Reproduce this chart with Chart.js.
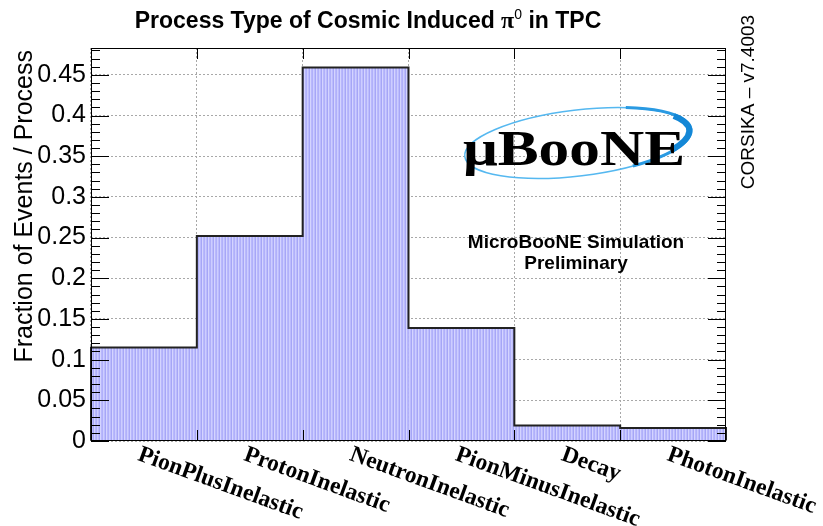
<!DOCTYPE html>
<html>
<head>
<meta charset="utf-8">
<script src="https://cdn.jsdelivr.net/npm/chart.js@4"></script>
<style>
  body { margin: 0; background: #fff; }
</style>
</head>
<body>
<canvas id="c" width="823" height="526"></canvas>
<script>
const categories = ['PionPlusInelastic', 'ProtonInelastic', 'NeutronInelastic', 'PionMinusInelastic', 'Decay', 'PhotonInelastic'];
const fractions = [0.115, 0.252, 0.459, 0.139, 0.019, 0.016];
const yTicks = [0, 0.05, 0.1, 0.15, 0.2, 0.25, 0.3, 0.35, 0.4, 0.45];
const yTickLabels = ['0', '0.05', '0.1', '0.15', '0.2', '0.25', '0.3', '0.35', '0.4', '0.45'];
const yMinorStep = 0.01;
const yMax = 0.483;

// ROOT-like dotted blue fill
function makeFill() {
  const c = document.createElement('canvas');
  c.width = 6; c.height = 4;
  const g = c.getContext('2d');
  const cols = ['#b0b0fa', '#cdcdff', '#bcbcfd', '#a6a6f6', '#d4d4ff', '#b8b8fc'];
  cols.forEach((col, i) => { g.fillStyle = col; g.fillRect(i, 0, 1, 4); });
  return g.createPattern(c, 'repeat');
}

const histPlugin = {
  id: 'hist',
  afterDraw(chart) {
    const ctx = chart.ctx;
    const a = chart.chartArea;
    const xs = chart.scales.x, ys = chart.scales.y;
    const bars = chart.getDatasetMeta(0).data;
    ctx.save();

    // step outline
    ctx.strokeStyle = '#222';
    ctx.lineWidth = 2;
    ctx.beginPath();
    bars.forEach((b, i) => {
      const l = b.x - b.width / 2, r = b.x + b.width / 2;
      if (i === 0) ctx.moveTo(l, b.base);
      ctx.lineTo(l, b.y);
      ctx.lineTo(r, b.y);
      if (i === bars.length - 1) ctx.lineTo(r, b.base);
    });
    ctx.stroke();

    // frame
    ctx.strokeStyle = '#000';
    ctx.lineWidth = 1;
    ctx.strokeRect(a.left + 0.5, a.top + 0.5, a.right - a.left - 1, a.bottom - a.top - 1);

    // y ticks (major + minor) on both sides
    ctx.beginPath();
    for (let v = 0; v <= yMax + 1e-9; v += yMinorStep) {
      const y = Math.round(ys.getPixelForValue(v)) + 0.5;
      const major = yTicks.some(t => Math.abs(t - v) < 1e-6);
      const len = major ? 18 : 9;
      ctx.moveTo(a.left, y); ctx.lineTo(a.left + len, y);
      ctx.moveTo(a.right, y); ctx.lineTo(a.right - len, y);
    }
    // x ticks at bin edges, top and bottom
    for (let i = 0; i < categories.length - 1; i++) {
      const x = Math.round((xs.getPixelForValue(i) + xs.getPixelForValue(i + 1)) / 2) + 0.5;
      ctx.moveTo(x, a.bottom); ctx.lineTo(x, a.bottom - 11);
      ctx.moveTo(x, a.top); ctx.lineTo(x, a.top + 11);
    }
    ctx.stroke();

    // y axis title
    ctx.fillStyle = '#000';
    ctx.save();
    ctx.translate(32, a.top + 2);
    ctx.rotate(-Math.PI / 2);
    ctx.font = '25px "Liberation Sans"';
    ctx.textAlign = 'right';
    ctx.textBaseline = 'alphabetic';
    ctx.fillText('Fraction of Events / Process', 0, 0);
    ctx.restore();

    // x labels
    ctx.font = 'bold 23.5px "Liberation Serif"';
    ctx.textAlign = 'left';
    ctx.textBaseline = 'top';
    categories.forEach((lab, i) => {
      const cx = xs.getPixelForValue(i);
      ctx.save();
      ctx.translate(cx - 1, a.bottom + 2);
      ctx.rotate(20 * Math.PI / 180);
      ctx.fillText(lab, 0, 0);
      ctx.restore();
    });

    // title
    ctx.textBaseline = 'alphabetic';
    const parts = [
      ['Process Type of Cosmic Induced ', 'bold 23px "Liberation Sans"', 0],
      ['\u03C0', 'bold 24px "Liberation Serif"', 0],
      ['0', '14px "Liberation Sans"', -9],
      [' in TPC', 'bold 23px "Liberation Sans"', 0]
    ];
    let w = 0;
    parts.forEach(p => { ctx.font = p[1]; w += ctx.measureText(p[0]).width; });
    let tx = 368 - w / 2;
    parts.forEach(p => {
      ctx.font = p[1];
      ctx.fillText(p[0], tx, 28 + p[2]);
      tx += ctx.measureText(p[0]).width;
    });

    // side label
    ctx.save();
    ctx.translate(754, 102);
    ctx.rotate(-Math.PI / 2);
    ctx.font = '19px "Liberation Sans"';
    ctx.textAlign = 'center';
    ctx.fillText('CORSIKA \u2013 v7.4003', 0, 0);
    ctx.restore();

    // uBooNE logo
    ctx.save();
    ctx.translate(578, 143);
    ctx.rotate(-0.12);
    ctx.strokeStyle = '#55b8f0';
    ctx.lineWidth = 1.5;
    ctx.beginPath();
    ctx.ellipse(0, 0, 114, 33, 0, 0, Math.PI * 2);
    ctx.stroke();
    ctx.strokeStyle = '#2a9ae2';
    ctx.lineWidth = 3;
    ctx.beginPath();
    ctx.ellipse(0, 0, 114, 33, 0, -1.1, 1.1);
    ctx.stroke();
    ctx.strokeStyle = '#1487d6';
    ctx.lineWidth = 6;
    ctx.beginPath();
    ctx.ellipse(0, 0, 112, 32, 0, -0.5, 0.6);
    ctx.stroke();
    ctx.restore();

    ctx.save();
    ctx.font = 'bold 50px "Liberation Serif"';
    const lw = ctx.measureText('\u03BCBooNE').width;
    ctx.translate(463, 165);
    ctx.scale(222 / lw, 1);
    ctx.textAlign = 'left';
    ctx.fillText('\u03BCBooNE', 0, 0);
    ctx.restore();

    ctx.font = 'bold 19px "Liberation Sans"';
    ctx.textAlign = 'center';
    ctx.fillText('MicroBooNE Simulation', 576, 248);
    ctx.fillText('Preliminary', 576, 269);

    ctx.restore();
  }
};

new Chart(document.getElementById('c'), {
  type: 'bar',
  data: {
    labels: categories,
    datasets: [{
      data: fractions,
      backgroundColor: makeFill(),
      borderWidth: 0,
      categoryPercentage: 1,
      barPercentage: 1
    }]
  },
  options: {
    responsive: false,
    animation: false,
    layout: { padding: { top: 48, right: 97, bottom: 85, left: 0 } },
    plugins: { legend: { display: false }, tooltip: { enabled: false } },
    scales: {
      x: {
        offset: true,
        z: 1,
        grid: { offset: true, color: '#a8a8a8', drawTicks: false },
        border: { display: false, dash: [2, 2] },
        ticks: { display: false },
        afterFit: s => { s.height = 0; }
      },
      y: {
        min: 0,
        max: yMax,
        z: 1,
        afterFit: s => { s.width = 91; },
        afterBuildTicks: s => { s.ticks = yTicks.map(v => ({ value: v })); },
        grid: { color: '#a8a8a8', drawTicks: false },
        border: { display: false, dash: [2, 2] },
        ticks: {
          callback: (v, i) => yTickLabels[i],
          font: { family: 'Liberation Sans', size: 25 },
          color: '#000',
          padding: 5
        }
      }
    }
  },
  plugins: [histPlugin]
});
</script>
</body>
</html>
